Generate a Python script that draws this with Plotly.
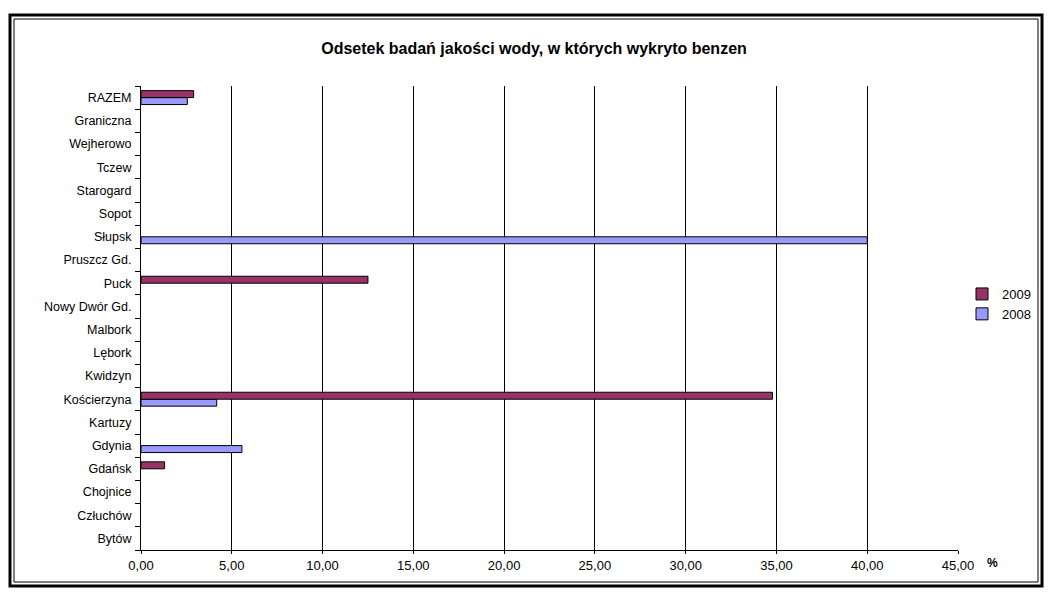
import plotly.graph_objects as go

# categories listed bottom -> top
powiaty = ["Bytów", "Człuchów", "Chojnice", "Gdańsk", "Gdynia", "Kartuzy", "Kościerzyna",
           "Kwidzyn", "Lębork", "Malbork", "Nowy Dwór Gd.", "Puck", "Pruszcz Gd.", "Słupsk",
           "Sopot", "Starogard", "Tczew", "Wejherowo", "Graniczna", "RAZEM"]
val_2009 = [None, None, None, 1.3, None, None, 34.78, None, None, None, None, 12.5, None, None,
            None, None, None, None, None, 2.9]
val_2008 = [None, None, None, None, 5.56, None, 4.17, None, None, None, None, None, None, 40.0,
            None, None, None, None, None, 2.55]
x_ticks = [0, 5, 10, 15, 20, 25, 30, 35, 40, 45]

# page has an 8px body margin, so the figure is 16px smaller and everything shifts by 8
OFF = 8
W, H = 1052 - 2 * OFF, 596 - 2 * OFF
L, R, T, B = 141 - OFF, 958 - OFF, 86 - OFF, 550 - OFF

def px(x):
    return (x - OFF - L) / (R - L)

def py(y):
    return (B - (y - OFF)) / (B - T)

fig = go.Figure()
# 2008 first so it sits below 2009 within each group
fig.add_trace(go.Bar(y=powiaty, x=val_2008, orientation="h", name="2008",
                     marker=dict(color="#9999FF", line=dict(color="#000000", width=1))))
fig.add_trace(go.Bar(y=powiaty, x=val_2009, orientation="h", name="2009",
                     marker=dict(color="#993366", line=dict(color="#000000", width=1))))

# double frame around the chart (kept inside the svg area)
shapes = [
    dict(type="rect", xref="paper", yref="paper", x0=px(10), x1=px(1042), y0=py(15), y1=py(586),
         line=dict(color="black", width=3)),
    dict(type="rect", xref="paper", yref="paper", x0=px(14), x1=px(1038), y0=py(19), y1=py(582),
         line=dict(color="black", width=1)),
]

fig.update_layout(
    width=W, height=H,
    margin=dict(l=L, r=W - R, t=T, b=H - B, autoexpand=False),
    paper_bgcolor="white", plot_bgcolor="white",
    font=dict(family="Liberation Sans, Arial", size=12, color="black"),
    separators=",.",
    barmode="group", bargap=0.4, bargroupgap=0,
    title=dict(text="<b>Odsetek badań jakości wody, w których wykryto benzen</b>",
               x=(534 - OFF) / W, xanchor="center", y=1 - (48 - OFF) / H, yanchor="middle",
               font=dict(size=16)),
    xaxis=dict(range=[0, 45], tickvals=x_ticks, tickformat=".2f", showgrid=True,
               gridcolor="#000000", gridwidth=1, showline=True, linecolor="black",
               zeroline=False, ticks="outside", ticklen=3, tickcolor="black",
               tickfont=dict(size=13)),
    yaxis=dict(showline=True, linecolor="black", ticks="outside", ticklen=5,
               tickson="boundaries", tickcolor="black", showgrid=False,
               ticklabelstandoff=6, tickfont=dict(size=12.5)),
    legend=dict(x=px(962), y=py(304), xanchor="left", yanchor="middle",
                traceorder="reversed", font=dict(size=13), itemwidth=30,
                tracegroupgap=0, bgcolor="rgba(0,0,0,0)"),
    shapes=shapes,
    annotations=[dict(text="<b>%</b>", xref="paper", yref="paper", x=px(992), y=py(563),
                      xanchor="center", yanchor="middle", showarrow=False,
                      font=dict(size=12))],
)

fig.write_html("out.html")
